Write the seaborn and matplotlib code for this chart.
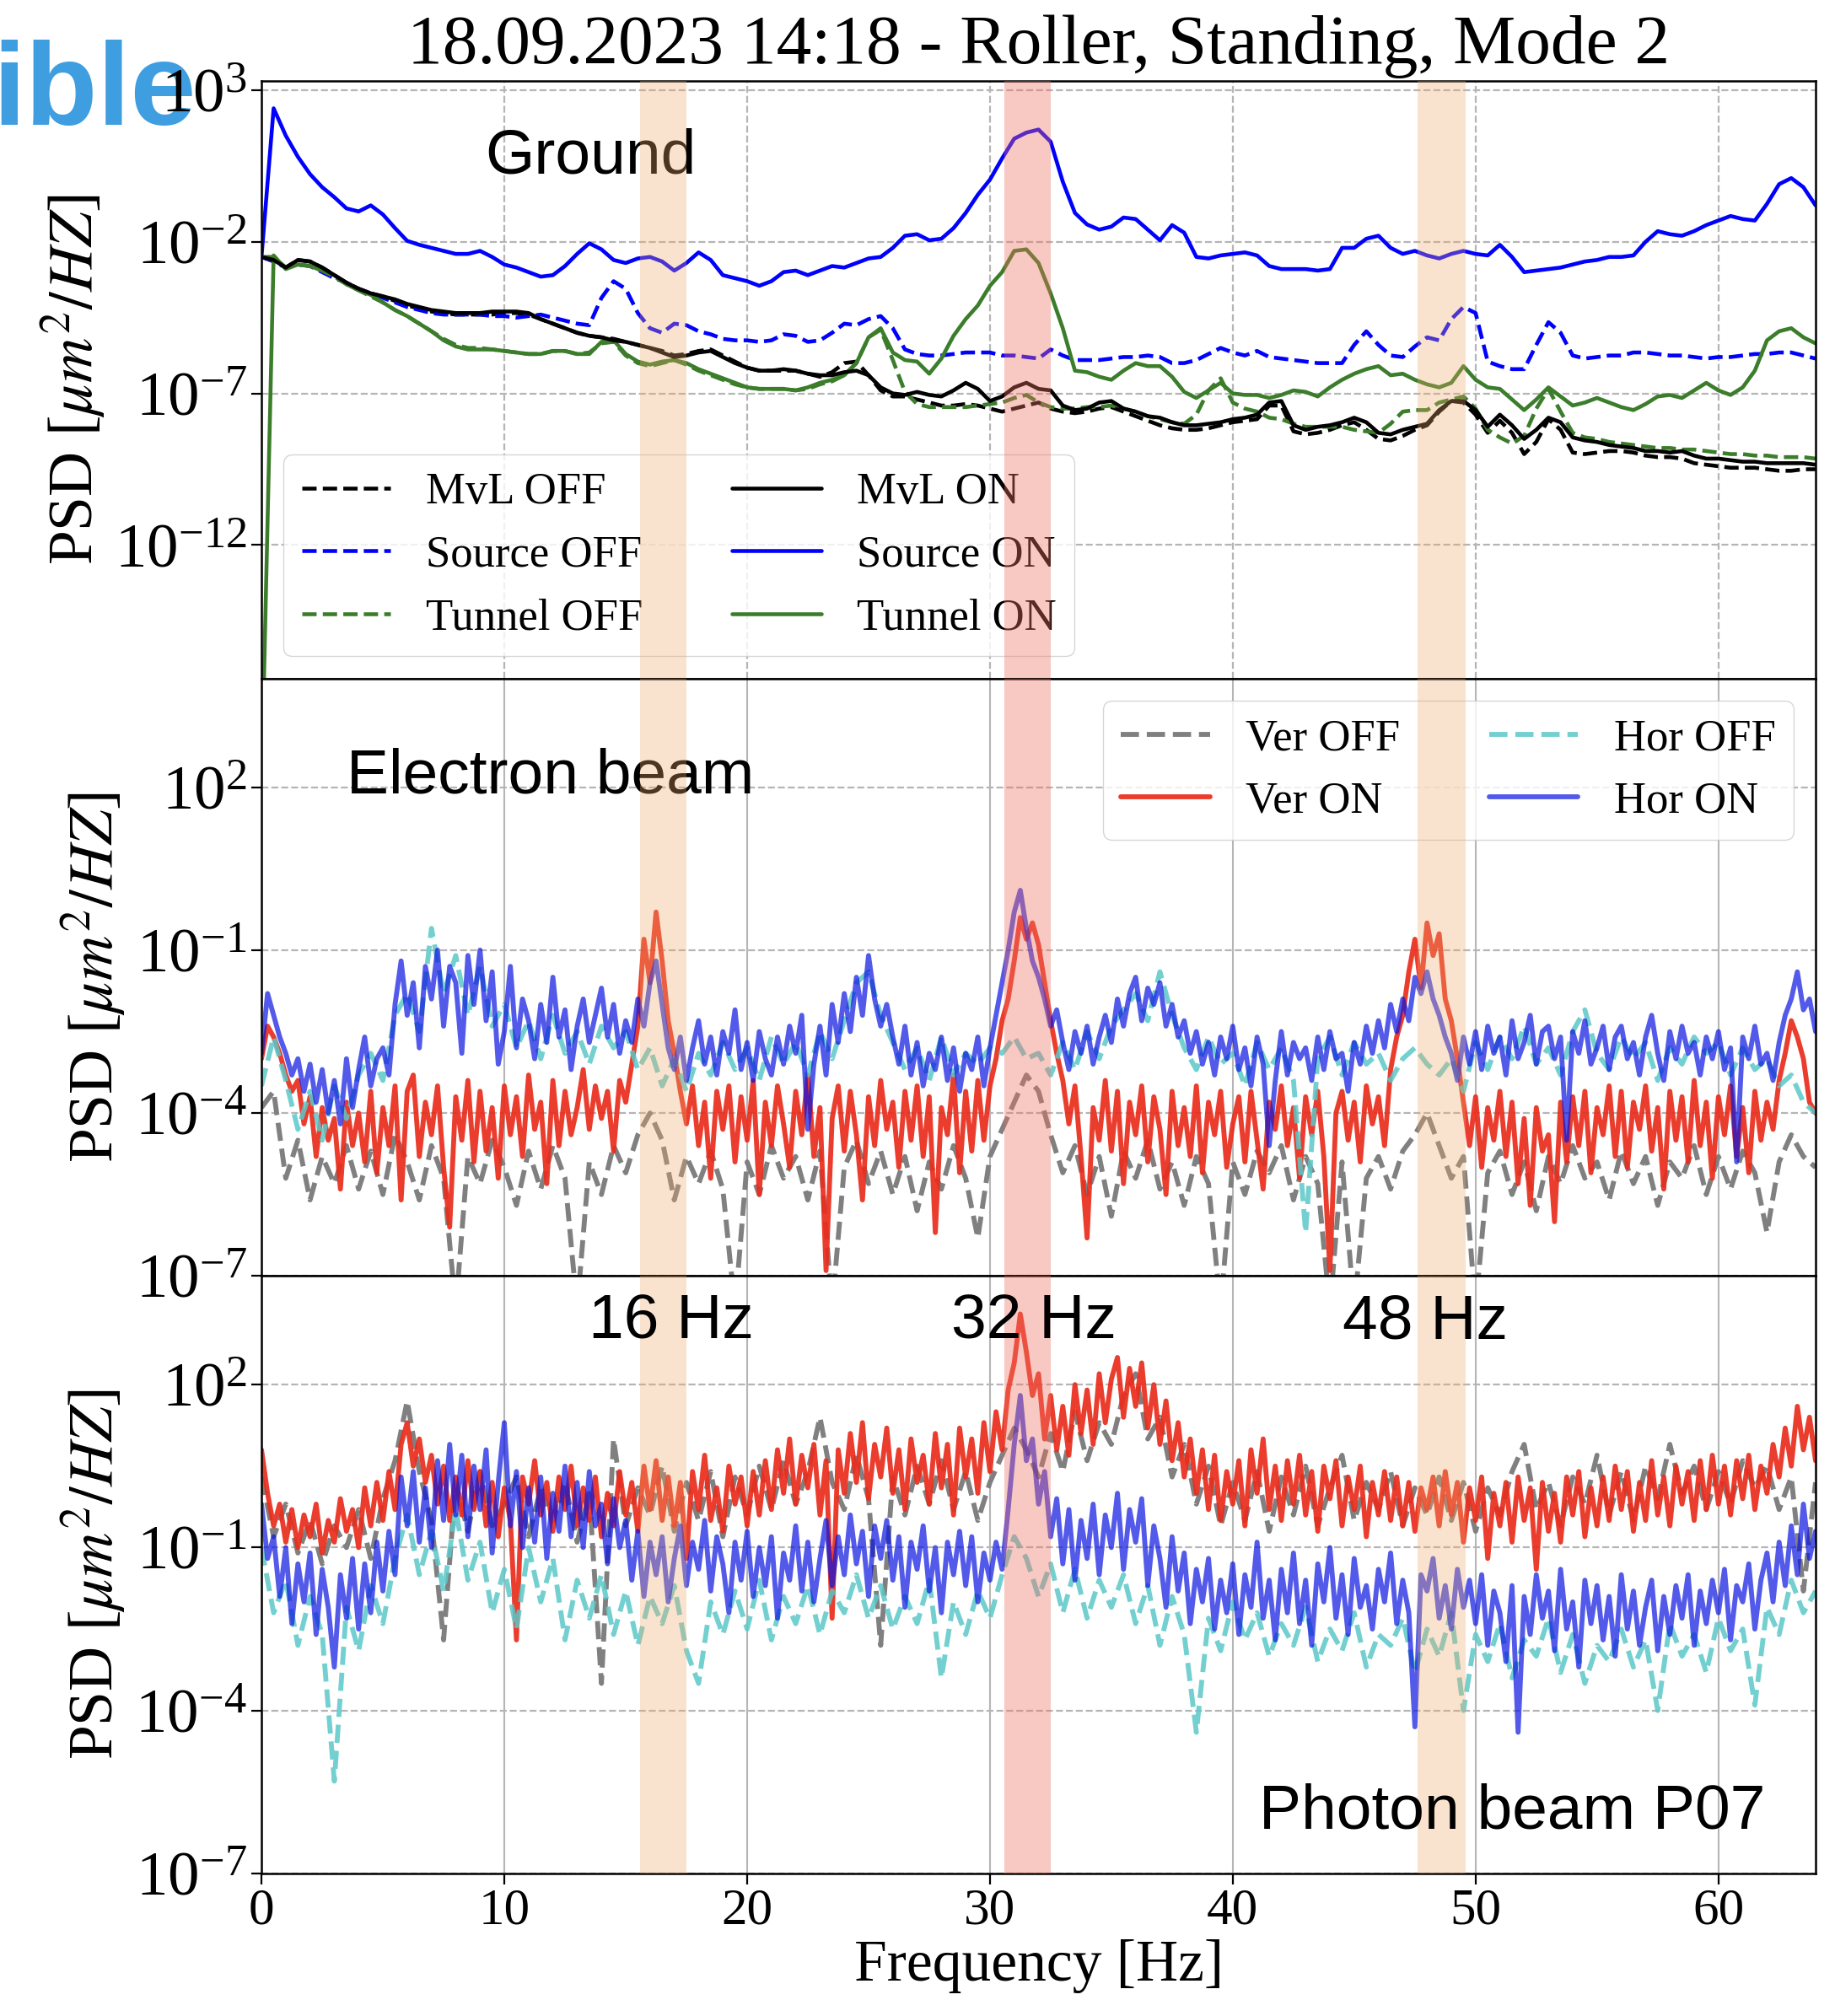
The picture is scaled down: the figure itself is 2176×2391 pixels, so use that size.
import numpy as np
import pandas as pd
import matplotlib
matplotlib.use("Agg")
import matplotlib.pyplot as plt
import seaborn as sns
from matplotlib.ticker import FixedLocator, NullLocator, LogFormatterSciNotation

# ---------------------------------------------------------------------------
# Data: log10(PSD)
# Ground panel: 0.5 Hz spacing (0 ... 64 Hz)
# Beam panels: ON series 0.25 Hz spacing, OFF series 0.5 Hz spacing
# ---------------------------------------------------------------------------
step_coarse = 0.5
step_fine = 0.25

ground_mvl_off = [
    -2.5, -2.6, -2.85, -2.6, -2.65, -2.85, -3.1, -3.35,
    -3.55, -3.7, -3.8, -3.95, -4.1, -4.2, -4.3, -4.35,
    -4.4, -4.4, -4.4, -4.4, -4.35, -4.35, -4.4, -4.55,
    -4.7, -4.85, -5.0, -5.1, -5.15, -5.2, -5.3, -5.4,
    -5.5, -5.6, -5.75, -5.7, -5.6, -5.55, -5.75, -5.95,
    -6.15, -6.25, -6.25, -6.25, -6.25, -6.35, -6.45, -6.3,
    -6.0, -5.95, -6.4, -6.9, -7.1, -7.1, -7.2, -7.3,
    -7.4, -7.4, -7.35, -7.4, -7.5, -7.6, -7.5, -7.4,
    -7.3, -7.5, -7.6, -7.65, -7.6, -7.5, -7.45, -7.6,
    -7.75, -7.9, -8.05, -8.15, -8.2, -8.2, -8.15, -8.05,
    -7.95, -7.9, -7.85, -7.4, -7.4, -8.25, -8.35, -8.3,
    -8.2, -8.05, -7.95, -8.2, -8.5, -8.55, -8.4, -8.2,
    -8.05, -7.6, -7.25, -7.3, -7.7, -8.3, -7.9, -8.3,
    -9.0, -8.6, -7.85, -8.2, -8.95, -9.0, -8.95, -8.9,
    -8.9, -8.95, -9.05, -9.1, -9.1, -9.15, -9.3, -9.35,
    -9.4, -9.45, -9.45, -9.45, -9.5, -9.55, -9.55, -9.5,
    -9.5]
ground_src_off = [
    -2.5, -2.65, -2.85, -2.75, -2.8, -3.0, -3.2, -3.35,
    -3.55, -3.7, -3.85, -4.0, -4.15, -4.25, -4.35, -4.4,
    -4.4, -4.4, -4.4, -4.45, -4.45, -4.5, -4.45, -4.4,
    -4.5, -4.6, -4.7, -4.75, -3.85, -3.3, -3.55, -4.35,
    -4.85, -5.0, -4.7, -4.75, -4.95, -5.05, -5.2, -5.25,
    -5.25, -5.3, -5.25, -5.05, -5.1, -5.3, -5.25, -5.0,
    -4.7, -4.75, -4.55, -4.45, -4.85, -5.55, -5.7, -5.75,
    -5.75, -5.7, -5.65, -5.65, -5.65, -5.75, -5.75, -5.8,
    -5.85, -5.55, -5.75, -5.9, -5.9, -5.9, -5.85, -5.8,
    -5.8, -5.75, -5.8, -6.0, -6.0, -5.9, -5.7, -5.5,
    -5.65, -5.75, -5.6, -5.8, -5.85, -5.9, -5.95, -6.0,
    -6.0, -6.0, -5.4, -4.95, -5.4, -5.75, -5.8, -5.45,
    -5.15, -5.25, -4.55, -4.15, -4.35, -5.95, -6.1, -6.2,
    -6.2, -5.4, -4.65, -5.0, -5.75, -5.85, -5.8, -5.75,
    -5.75, -5.65, -5.65, -5.7, -5.75, -5.75, -5.8, -5.85,
    -5.8, -5.8, -5.75, -5.7, -5.7, -5.65, -5.65, -5.75,
    -5.85]
ground_tun_off = [
    -2.5, -2.5, -2.85, -2.75, -2.8, -2.95, -3.15, -3.4,
    -3.6, -3.8, -4.0, -4.25, -4.45, -4.7, -4.95, -5.2,
    -5.4, -5.5, -5.5, -5.55, -5.6, -5.65, -5.7, -5.7,
    -5.6, -5.6, -5.7, -5.65, -5.35, -5.3, -5.75, -6.0,
    -6.1, -6.0, -5.9, -6.05, -6.25, -6.4, -6.55, -6.7,
    -6.8, -6.85, -6.85, -6.85, -6.9, -6.85, -6.7, -6.6,
    -6.4, -6.0, -5.15, -4.9, -5.9, -6.95, -7.35, -7.45,
    -7.45, -7.45, -7.45, -7.4, -7.35, -7.3, -7.15, -7.05,
    -7.3, -7.45, -7.5, -7.5, -7.45, -7.45, -7.4, -7.5,
    -7.6, -7.75, -7.85, -7.95, -8.0, -7.7, -6.9, -6.5,
    -7.3, -7.5, -7.6, -7.8, -7.85, -8.0, -8.1, -8.1,
    -8.1, -8.1, -8.2, -8.25, -8.3, -8.0, -7.6, -7.55,
    -7.55, -7.3, -7.2, -7.1, -7.5, -8.2, -8.45, -8.65,
    -8.4, -7.5, -6.85, -7.6, -8.3, -8.45, -8.5, -8.6,
    -8.65, -8.7, -8.75, -8.8, -8.8, -8.85, -8.85, -8.9,
    -8.95, -9.0, -9.0, -9.05, -9.05, -9.1, -9.1, -9.1,
    -9.15]
ground_mvl_on = [
    -2.5, -2.6, -2.85, -2.6, -2.65, -2.85, -3.1, -3.35,
    -3.55, -3.7, -3.8, -3.9, -4.05, -4.15, -4.25, -4.3,
    -4.35, -4.35, -4.35, -4.3, -4.3, -4.3, -4.35, -4.55,
    -4.7, -4.85, -5.0, -5.1, -5.15, -5.25, -5.3, -5.4,
    -5.5, -5.65, -5.8, -5.75, -5.65, -5.6, -5.8, -6.0,
    -6.15, -6.25, -6.25, -6.2, -6.25, -6.35, -6.4, -6.4,
    -6.3, -6.25, -6.4, -6.8, -7.0, -7.05, -6.95, -7.05,
    -7.1, -6.9, -6.65, -6.85, -7.25, -7.1, -6.8, -6.65,
    -6.85, -6.9, -7.4, -7.55, -7.5, -7.3, -7.25, -7.5,
    -7.6, -7.75, -7.8, -7.95, -8.05, -8.05, -8.0, -7.95,
    -7.85, -7.8, -7.7, -7.3, -7.25, -8.05, -8.2, -8.1,
    -8.05, -7.95, -7.8, -7.95, -8.3, -8.35, -8.2, -8.1,
    -8.0, -7.55, -7.25, -7.25, -7.55, -8.1, -7.7, -8.05,
    -8.5, -8.2, -7.8, -7.95, -8.45, -8.55, -8.6, -8.7,
    -8.75, -8.8, -8.9, -8.9, -8.95, -8.9, -9.05, -9.15,
    -9.15, -9.2, -9.25, -9.25, -9.3, -9.3, -9.3, -9.3,
    -9.35]
ground_src_on = [
    -2.5, 2.4, 1.5, 0.8, 0.23, -0.2, -0.53, -0.9,
    -1.0, -0.8, -1.1, -1.55, -1.97, -2.1, -2.2, -2.3,
    -2.4, -2.4, -2.3, -2.5, -2.75, -2.85, -3.0, -3.15,
    -3.1, -2.8, -2.4, -2.05, -2.25, -2.6, -2.7, -2.55,
    -2.5, -2.65, -2.95, -2.7, -2.35, -2.6, -3.1, -3.2,
    -3.3, -3.45, -3.3, -3.0, -2.95, -3.1, -2.95, -2.8,
    -2.85, -2.7, -2.55, -2.5, -2.2, -1.8, -1.75, -1.95,
    -1.9, -1.55, -1.05, -0.45, 0.05, 0.75, 1.4, 1.6,
    1.7, 1.3, -0.02, -1.05, -1.43, -1.6, -1.5, -1.2,
    -1.25, -1.6, -1.95, -1.45, -1.7, -2.5, -2.55, -2.45,
    -2.4, -2.35, -2.45, -2.8, -2.9, -2.9, -2.9, -2.95,
    -2.9, -2.2, -2.2, -1.9, -1.8, -2.2, -2.4, -2.3,
    -2.45, -2.55, -2.4, -2.3, -2.4, -2.45, -2.1, -2.5,
    -3.0, -2.95, -2.9, -2.85, -2.75, -2.65, -2.6, -2.5,
    -2.5, -2.45, -2.0, -1.65, -1.75, -1.8, -1.65, -1.45,
    -1.3, -1.15, -1.25, -1.3, -0.75, -0.1, 0.1, -0.2,
    -0.8]
ground_tun_on = [
    -20.0, -2.45, -2.9, -2.75, -2.8, -2.95, -3.1, -3.4,
    -3.6, -3.75, -4.0, -4.25, -4.45, -4.7, -4.95, -5.25,
    -5.45, -5.55, -5.55, -5.55, -5.6, -5.65, -5.7, -5.7,
    -5.6, -5.6, -5.7, -5.7, -5.3, -5.25, -5.7, -5.95,
    -6.05, -5.95, -5.9, -6.0, -6.2, -6.35, -6.5, -6.65,
    -6.8, -6.85, -6.85, -6.85, -6.9, -6.8, -6.65, -6.55,
    -6.4, -6.0, -5.15, -4.85, -5.65, -5.9, -5.95, -6.35,
    -5.85, -5.1, -4.55, -4.1, -3.45, -3.0, -2.3, -2.25,
    -2.7, -3.7, -4.85, -6.25, -6.3, -6.45, -6.55, -6.25,
    -6.0, -6.1, -6.1, -6.45, -6.95, -7.15, -6.9, -6.65,
    -7.0, -7.05, -7.05, -7.15, -7.05, -6.9, -6.95, -7.1,
    -6.8, -6.55, -6.35, -6.2, -6.1, -6.4, -6.35, -6.55,
    -6.7, -6.8, -6.65, -6.1, -6.55, -6.8, -6.85, -7.2,
    -7.55, -7.2, -6.8, -7.1, -7.4, -7.3, -7.15, -7.3,
    -7.45, -7.55, -7.35, -7.1, -7.05, -7.15, -6.9, -6.65,
    -6.9, -7.05, -6.8, -6.25, -5.25, -4.95, -4.85, -5.15,
    -5.35]

# Electron beam
ebeam_ver_off = [
    -3.9, -3.6, -5.2, -4.5, -5.6, -4.8, -5.3, -4.6,
    -5.4, -4.7, -5.5, -4.4, -4.9, -5.6, -4.6, -5.2,
    -7.6, -4.8, -5.3, -4.5, -5.0, -5.7, -4.7, -5.4,
    -4.6, -5.2, -7.6, -4.9, -5.5, -4.6, -5.1, -4.4,
    -4.0, -4.5, -5.6, -4.8, -5.3, -4.7, -5.4, -7.6,
    -4.9, -5.5, -4.6, -5.2, -4.8, -5.6, -4.7, -7.6,
    -5.0, -4.5, -5.3, -4.7, -5.5, -4.8, -5.8, -4.9,
    -5.4, -4.6, -5.2, -6.3, -4.8, -4.3, -3.8, -3.3,
    -3.6, -4.4, -5.1, -4.6, -5.5, -4.8, -5.9, -4.7,
    -5.2, -4.5, -5.4, -4.9, -5.7, -4.8, -5.3, -7.6,
    -4.9, -5.5, -4.7, -5.1, -4.6, -5.6, -4.8, -5.3,
    -7.6, -4.9, -7.6, -5.2, -4.8, -5.4, -4.7, -4.4,
    -4.0, -4.6, -5.2, -4.8, -7.6, -5.1, -4.7, -5.5,
    -4.9, -5.8, -4.8, -5.3, -4.6, -5.2, -4.9, -5.6,
    -4.7, -5.3, -4.8, -5.7, -4.9, -5.2, -4.6, -5.5,
    -4.8, -5.4, -4.7, -5.1, -6.2, -4.9, -4.4, -4.8,
    -5.0]
ebeam_ver_on = [
    -3.0, -2.4, -2.6, -2.9, -3.3, -3.6, -3.4, -4.2, -3.7, -4.8, -3.9, -4.5, -4.1, -5.4, -3.8, -4.6,
    -4.0, -4.9, -3.6, -5.1, -3.9, -4.6, -3.5, -5.6, -3.6, -3.3, -4.8, -3.8, -4.4, -3.5, -5.0, -6.1,
    -3.7, -4.5, -3.4, -4.9, -3.6, -4.7, -3.9, -5.2, -3.5, -4.4, -3.7, -4.8, -3.3, -4.3, -3.8, -5.3,
    -3.4, -4.6, -3.6, -4.4, -3.9, -3.2, -4.3, -3.5, -4.1, -3.6, -4.7, -3.4, -3.8, -3.1, -2.4, -0.8,
    -1.6, -0.3, -1.2, -2.3, -2.9, -3.6, -4.2, -3.5, -4.6, -3.8, -5.2, -3.6, -4.3, -3.5, -4.9, -3.7,
    -4.5, -3.4, -5.5, -3.8, -4.6, -3.5, -4.2, -5.0, -3.6, -4.4, -3.3, -4.8, -3.9, -6.9, -4.1, -3.5,
    -4.7, -3.6, -4.4, -5.6, -3.7, -4.6, -3.4, -4.3, -3.8, -5.0, -3.6, -4.5, -3.5, -4.8, -3.7, -6.2,
    -3.9, -4.4, -3.3, -5.1, -3.6, -4.7, -3.4, -4.5, -3.5, -3.0, -2.3, -1.9, -1.2, -0.4, -0.8, -0.5,
    -0.9, -1.6, -2.3, -2.9, -3.4, -4.2, -3.5, -4.8, -6.3, -3.9, -4.5, -3.4, -4.7, -3.6, -5.3, -3.8,
    -4.4, -3.5, -4.9, -3.7, -4.3, -5.5, -3.6, -4.6, -3.9, -4.8, -3.5, -5.1, -3.8, -4.4, -3.6, -5.0,
    -4.2, -3.7, -4.9, -3.6, -4.5, -5.4, -3.8, -4.3, -3.5, -4.6, -3.9, -5.2, -3.7, -4.4, -3.6, -4.8,
    -6.9, -4.0, -3.6, -4.5, -3.8, -4.9, -3.5, -4.2, -3.7, -4.6, -3.2, -2.6, -2.2, -1.4, -0.8, -1.7,
    -0.5, -1.1, -0.7, -1.9, -2.3, -3.0, -3.8, -4.6, -3.7, -5.0, -3.9, -4.5, -3.6, -4.8, -3.8, -5.3,
    -4.1, -5.7, -3.9, -4.7, -4.4, -6.0, -3.8, -4.9, -3.7, -4.6, -3.6, -5.1, -3.9, -4.4, -3.5, -4.8,
    -3.6, -5.0, -3.8, -4.3, -3.5, -4.7, -3.9, -5.4, -3.6, -4.5, -3.7, -4.9, -3.4, -4.6, -3.8, -5.2,
    -3.7, -4.4, -3.5, -4.8, -3.9, -5.1, -3.6, -4.5, -3.8, -4.3, -3.4, -2.9, -2.3, -2.6, -3.0, -3.8,
    -4.0]
ebeam_hor_off = [
    -3.5, -2.6, -3.4, -4.3, -3.6, -4.5, -3.5, -4.1,
    -3.3, -2.9, -3.4, -2.2, -1.8, -2.5, -0.6, -1.8,
    -1.1, -2.2, -1.3, -2.4, -2.0, -2.8, -2.3, -3.0,
    -2.2, -2.9, -2.5, -3.1, -2.4, -2.8, -2.5, -3.2,
    -2.8, -3.5, -3.0, -3.6, -2.9, -3.3, -2.7, -3.2,
    -2.8, -3.4, -2.6, -3.1, -2.7, -3.3, -2.5, -3.0,
    -2.3, -1.6, -1.4, -2.2, -2.7, -3.2, -2.8, -3.4,
    -2.6, -3.3, -2.9, -3.1, -2.8, -2.9, -2.6, -3.0,
    -2.9, -3.3, -2.7, -3.2, -2.5, -3.0, -2.4, -2.1,
    -1.8, -2.3, -1.4, -2.2, -2.8, -3.2, -2.6, -3.1,
    -2.9, -3.5, -2.7, -3.2, -2.8, -3.4, -6.2, -3.0,
    -2.6, -3.3, -2.7, -3.1, -2.9, -3.4, -3.0, -2.8,
    -3.1, -3.3, -3.0, -3.6, -2.7, -3.2, -2.6, -3.0,
    -2.4, -3.1, -2.8, -3.3, -2.5, -2.1, -2.9, -3.2,
    -2.6, -3.0, -2.7, -3.4, -2.8, -3.1, -2.6, -2.9,
    -2.7, -3.3, -2.8, -3.2, -3.0, -3.5, -3.3, -3.8,
    -4.0]
ebeam_hor_on = [
    -2.9, -1.8, -2.2, -2.6, -2.9, -3.3, -3.0, -3.6, -3.1, -3.8, -3.2, -4.0, -3.4, -4.2, -3.0, -3.9,
    -3.2, -2.6, -3.5, -3.0, -2.8, -3.3, -2.0, -1.2, -2.2, -1.6, -2.8, -1.3, -1.9, -1.0, -2.4, -1.3,
    -1.6, -2.9, -1.1, -2.0, -1.0, -2.3, -1.4, -3.1, -2.5, -1.3, -2.8, -1.9, -2.3, -3.0, -2.0, -2.7,
    -1.5, -2.6, -2.1, -3.2, -2.4, -1.9, -2.7, -2.2, -1.7, -2.6, -2.0, -2.9, -2.3, -2.7, -1.9, -2.4,
    -1.6, -1.2, -2.0, -2.8, -3.2, -2.6, -3.4, -2.8, -2.3, -3.1, -2.6, -3.3, -2.5, -2.9, -2.1, -3.2,
    -2.7, -3.4, -2.5, -3.0, -3.3, -2.6, -3.1, -2.4, -2.9, -2.2, -4.3, -3.1, -2.4, -3.3, -2.0, -2.7,
    -1.8, -2.5, -1.5, -2.2, -1.1, -1.9, -2.4, -2.0, -2.6, -3.1, -2.4, -3.3, -2.7, -3.5, -2.9, -3.2,
    -2.6, -3.4, -2.8, -3.6, -2.9, -3.2, -2.6, -3.5, -2.8, -2.2, -1.6, -1.0, -0.3, 0.1, -0.6, -1.2,
    -1.5, -1.9, -2.4, -2.1, -2.7, -3.2, -2.5, -2.9, -2.4, -3.1, -2.6, -2.2, -2.7, -1.9, -2.4, -1.8,
    -1.5, -2.3, -1.7, -2.0, -1.6, -2.4, -2.0, -2.6, -2.3, -2.9, -2.5, -3.1, -2.7, -3.3, -2.6, -3.0,
    -2.4, -3.2, -2.8, -3.5, -2.6, -3.1, -4.6, -3.4, -2.5, -3.3, -2.7, -3.0, -2.8, -3.4, -2.6, -3.2,
    -2.5, -3.0, -2.9, -3.6, -2.7, -3.1, -2.4, -2.9, -2.3, -2.8, -2.0, -2.5, -1.9, -2.3, -1.5, -1.8,
    -1.4, -1.9, -2.2, -2.6, -2.9, -3.4, -2.6, -3.1, -2.5, -3.2, -2.4, -2.9, -2.6, -3.3, -2.3, -3.0,
    -2.7, -2.2, -3.1, -2.5, -2.4, -3.0, -2.6, -4.5, -2.5, -2.9, -2.3, -3.1, -2.8, -2.4, -3.2, -2.6,
    -2.4, -3.0, -2.7, -3.3, -2.6, -2.2, -2.9, -3.4, -2.5, -3.0, -2.4, -2.9, -2.7, -3.3, -2.6, -3.0,
    -2.5, -3.2, -2.8, -4.9, -2.6, -3.0, -2.4, -3.1, -2.9, -3.4, -2.7, -2.2, -1.9, -1.4, -2.1, -1.9,
    -2.5]

# Photon beam P07
photon_ver_off = [
    0.3, -0.8, -0.2, -1.1, -0.5, -1.3, -0.6, -1.0,
    -0.3, -1.2, -0.1, 0.6, 1.7, 0.4, -0.5, -2.7,
    0.2, -0.7, 0.4, -0.6, -0.2, 0.3, -0.8, 0.1,
    -0.5, 0.2, -0.9, 0.0, -3.5, 1.0, -0.6, 0.1,
    -0.4, 0.5, -0.7, 0.2, -0.5, 0.4, -0.8, 0.3,
    -0.4, 0.5, -0.3, 0.6, -0.2, 0.4, 1.4, 0.2,
    -0.3, 0.7, -0.1, -2.8, 0.3, -0.4, 0.5, -0.2,
    0.6, -0.3, 0.4, -0.5, 0.2, 0.7, 1.2, 0.8,
    0.3, 1.1, 0.4, 1.5, 0.6, 1.3, 0.9, 1.8,
    2.2, 1.0, 1.4, 0.3, 0.9, -0.2, 0.5, -0.6,
    0.2, -0.5, 0.4, -0.7, 0.3, -0.4, 0.5, -0.6,
    0.1, 0.7, -0.5, 0.2, -0.3, 0.4, -0.6, 0.1,
    -0.4, 0.3, -0.5, 0.2, -0.7, 0.1, -0.4, 0.4,
    0.9, -0.3, 0.2, -0.6, 0.3, -0.2, 0.7, -0.4,
    0.4, -0.5, 0.5, -0.1, 0.9, 0.0, 0.5, -0.3,
    0.4, -0.2, 0.6, 0.1, 0.5, -0.3, 0.3, -1.8,
    0.2]
photon_ver_on = [
    0.8, 0.0, -0.6, -0.2, -0.9, -0.3, -1.0, -0.4, -0.8, -0.2, -1.1, -0.5, -0.9, -0.1, -0.7, -0.3,
    -1.0, 0.1, -0.6, 0.2, -0.5, 0.4, -0.3, 0.9, 1.3, 0.5, 1.0, 0.2, 0.7, -0.2, 0.5, -0.5,
    0.3, -0.4, 0.6, -0.3, 0.4, -0.6, 0.2, -0.8, 0.1, -0.5, -2.7, 0.3, -0.2, 0.6, -0.4, 0.2,
    -0.7, 0.3, -0.3, 0.5, -0.6, 0.1, -0.5, 0.3, -0.8, 0.0, -0.6, 0.4, -0.4, 0.2, -0.7, 0.5,
    -0.3, 0.6, -0.5, 0.3, -0.6, 0.2, -1.2, 0.4, -0.3, 0.7, -0.5, 0.1, -0.7, 0.5, -0.2, 0.3,
    -0.6, 0.4, -0.4, 0.6, -0.3, 0.8, 0.0, 1.0, -0.2, 0.7, 0.1, 0.9, -0.4, 0.6, -2.3, 0.8,
    0.0, 1.1, 0.2, 1.3, -0.1, 0.9, 0.3, 1.2, 0.0, 0.8, -0.3, 1.0, 0.2, 0.7, -0.2, 1.1,
    0.1, 0.9, -0.4, 1.2, 0.3, 1.0, 0.0, 1.3, 0.4, 1.5, 0.8, 1.9, 2.4, 3.3, 2.6, 1.8,
    2.2, 1.0, 1.8, 0.8, 1.6, 0.7, 2.0, 1.1, 1.9, 0.9, 2.2, 1.3, 2.1, 2.5, 1.4, 2.3,
    1.6, 2.4, 1.2, 2.0, 0.9, 1.7, 0.6, 1.3, 0.3, 1.0, 0.0, 0.8, -0.3, 0.7, -0.5, 0.4,
    -0.2, 0.6, -0.6, 0.8, 0.0, 1.0, -0.3, 0.5, -0.5, 0.6, -0.2, 0.7, -0.4, 0.4, -0.7, 0.5,
    -0.1, 0.6, -0.6, 0.3, -0.3, 0.5, -0.8, 0.2, -0.4, 0.4, -0.5, 0.3, -0.6, 0.2, -0.7, 0.1,
    -0.3, 0.3, -0.6, 0.4, -0.4, 0.2, -0.9, 0.1, -0.5, 0.3, -1.2, 0.0, -0.6, 0.2, -0.9, 0.3,
    -0.5, 0.1, -1.4, 0.2, -0.7, 0.0, -0.9, 0.3, -0.4, 0.4, -0.8, 0.1, -0.6, 0.3, -0.5, 0.5,
    -0.3, 0.4, -0.7, 0.2, -0.5, 0.6, -0.4, 0.3, -0.6, 0.5, -0.2, 0.4, -0.5, 0.6, -0.3, 0.7,
    -0.2, 0.5, -0.4, 0.6, -0.1, 0.7, -0.3, 0.5, 0.0, 0.9, 0.3, 1.2, 0.5, 1.6, 0.8, 1.4,
    0.6]
photon_hor_off = [
    -1.0, -2.2, -1.6, -2.8, -1.9, -2.6, -5.3, -2.1,
    -2.9, -1.7, -2.4, -1.2, -0.4, -1.5, -0.7, -1.8,
    -0.3, -1.6, -0.9, -2.2, -1.4, -2.5, -1.0, -2.0,
    -1.2, -2.7, -1.6, -2.3, -1.5, -2.6, -1.8, -2.8,
    -1.9, -2.4, -1.7, -2.9, -3.5, -2.0, -2.6, -1.8,
    -2.5, -1.6, -2.7, -1.9, -2.4, -1.7, -2.6, -1.8,
    -2.2, -1.5, -2.3, -1.7, -2.5, -1.9, -2.4, -1.6,
    -3.4, -2.0, -2.6, -1.8, -2.3, -1.5, -0.8, -1.2,
    -1.9, -1.3, -2.2, -1.4, -2.3, -1.6, -2.1, -1.5,
    -2.4, -1.7, -2.8, -1.9, -2.6, -4.4, -2.3, -2.9,
    -2.0, -2.7, -2.2, -3.0, -2.4, -2.8, -2.1, -3.1,
    -2.5, -2.9, -2.2, -3.2, -2.6, -2.8, -2.3, -3.3,
    -2.5, -3.0, -2.2, -4.0, -2.6, -3.1, -2.4, -3.4,
    -2.7, -3.0, -2.3, -3.3, -2.6, -3.5, -2.8, -3.1,
    -2.5, -3.2, -2.7, -4.0, -2.4, -3.0, -2.6, -3.3,
    -2.3, -2.9, -2.5, -3.9, -2.1, -2.6, -1.6, -2.2,
    -1.8]
photon_hor_on = [
    -0.2, -1.2, -0.8, -1.9, -1.0, -2.4, -1.3, -2.0, -1.1, -2.6, -1.4, -2.1, -3.2, -1.5, -2.3, -1.2,
    -2.5, -1.3, -2.2, -0.9, -1.8, -0.7, -1.5, 0.3, -0.6, 0.4, -0.9, 0.1, -1.0, 0.6, -0.5, 0.9,
    -0.4, 0.7, -0.8, 0.5, -0.3, 0.8, -1.1, 0.2, 1.3, -0.6, 0.4, -1.0, 0.1, -0.9, 0.3, -1.2,
    0.0, -0.7, 0.5, -0.8, 0.2, -1.0, 0.4, -0.6, -0.2, -1.3, -0.1, -1.0, -0.5, -1.6, -0.7, -1.9,
    -0.9, -1.5, -0.8, -2.0, -1.2, -0.6, -1.7, -0.9, -1.4, -0.5, -1.8, -0.8, -1.3, -2.2, -0.9, -1.6,
    -0.7, -1.9, -1.0, -1.7, -0.8, -2.3, -1.1, -1.6, -0.6, -1.8, -0.9, -2.0, -1.2, -0.5, -1.7, -0.8,
    -1.5, -0.4, -1.3, -0.7, -1.9, -0.6, -1.2, -0.5, -1.6, -0.8, -2.1, -0.9, -1.4, -0.6, -1.8, -1.0,
    -2.2, -0.9, -1.5, -0.7, -1.7, -0.8, -2.0, -1.1, -1.6, -0.9, -1.4, -0.3, 0.9, 1.8, 0.6, 1.0,
    -0.2, 0.4, -0.8, -0.1, -1.3, -0.3, -1.6, -0.5, -1.2, -0.2, -1.5, -0.4, -1.0, 0.0, -1.4, -0.3,
    -0.9, -0.1, -1.7, -0.6, -1.2, -2.1, -0.8, -1.8, -1.1, -2.4, -1.4, -2.0, -1.2, -2.5, -1.6, -2.2,
    -1.3, -2.6, -1.5, -2.1, -0.9, -2.3, -1.6, -2.7, -1.4, -2.2, -1.1, -2.4, -1.6, -2.8, -1.3, -2.0,
    -1.0, -2.3, -1.5, -2.6, -1.2, -2.1, -1.7, -2.5, -1.4, -2.0, -1.1, -2.4, -1.6, -2.2, -4.3, -1.5,
    -1.8, -1.2, -2.3, -1.7, -2.5, -1.4, -2.1, -1.6, -2.4, -1.5, -2.8, -1.8, -2.2, -3.1, -1.7, -4.4,
    -1.9, -2.6, -1.5, -2.3, -1.8, -2.9, -1.4, -2.5, -2.0, -3.2, -1.6, -2.4, -1.7, -2.7, -1.9, -3.0,
    -1.5, -2.5, -1.8, -2.8, -2.1, -1.6, -2.9, -1.9, -2.6, -1.7, -2.3, -1.5, -2.8, -1.8, -2.4, -1.6,
    -2.2, -1.4, -2.7, -1.7, -2.0, -1.3, -2.5, -1.6, -1.1, -2.0, -0.9, -1.7, -0.6, -1.5, -0.2, -1.2,
    -0.7]

# Highlighted bands (Hz) and annotations
band_16 = (15.6, 17.5)
band_32 = (30.6, 32.5)
band_48 = (47.6, 49.6)
x_ticks = [0, 10, 20, 30, 40, 50, 60]
ground_yticks = [1e3, 1e-2, 1e-7, 1e-12]
beam_yticks = [1e2, 1e-1, 1e-4, 1e-7]


def to_xy(vals, step):
    v = np.asarray(vals, dtype=float)
    return np.arange(len(v)) * step, 10.0 ** v


# ---------------------------------------------------------------------------
sns.set_theme(style="ticks", rc={
    "axes.edgecolor": "black", "axes.labelcolor": "black", "text.color": "black",
    "xtick.color": "black", "ytick.color": "black", "axes.linewidth": 1.6,
})
plt.rcParams['font.family'] = ['Liberation Serif', 'DejaVu Serif']
plt.rcParams['mathtext.fontset'] = 'stix'
plt.rcParams['axes.unicode_minus'] = True

fig = plt.figure(figsize=(21.76, 23.91), dpi=100)
gs = fig.add_gridspec(3, 1, left=0.1425, right=0.9894, top=0.9598,
                      bottom=0.0707, hspace=0)
ax1 = fig.add_subplot(gs[0])
ax2 = fig.add_subplot(gs[1], sharex=ax1)
ax3 = fig.add_subplot(gs[2], sharex=ax1)

green = '#3b7d2b'
lw_top = 3.3
lw_beam = 4.2


def draw(ax, vals, step, color, ls, label, lw, alpha=1.0):
    x, y = to_xy(vals, step)
    sns.lineplot(x=x, y=y, ax=ax, color=color, linestyle=ls, linewidth=lw,
                 alpha=alpha, label=label, legend=False, estimator=None,
                 sort=False, errorbar=None)
    return ax.lines[-1]


# --- Ground panel
h = {}
h['MvL OFF'] = draw(ax1, ground_mvl_off, step_coarse, 'black', '--', 'MvL OFF', lw_top)
h['Source OFF'] = draw(ax1, ground_src_off, step_coarse, 'blue', '--', 'Source OFF', lw_top)
h['Tunnel OFF'] = draw(ax1, ground_tun_off, step_coarse, green, '--', 'Tunnel OFF', lw_top)
h['Tunnel ON'] = draw(ax1, ground_tun_on, step_coarse, green, '-', 'Tunnel ON', lw_top)
h['MvL ON'] = draw(ax1, ground_mvl_on, step_coarse, 'black', '-', 'MvL ON', lw_top)
h['Source ON'] = draw(ax1, ground_src_on, step_coarse, 'blue', '-', 'Source ON', lw_top)
order1 = ['MvL OFF', 'Source OFF', 'Tunnel OFF', 'MvL ON', 'Source ON', 'Tunnel ON']

# --- Beam panels
beam_colors = {'Ver OFF': ('#808080', '--', 1.0), 'Ver ON': ('#ea2c1c', '-', 0.92),
               'Hor OFF': ('#5cc8c8', '--', 0.85), 'Hor ON': ('#0a14e0', '-', 0.7)}
g = {}
for ax, data in [(ax2, [('Ver OFF', ebeam_ver_off, step_coarse), ('Ver ON', ebeam_ver_on, step_fine),
                        ('Hor OFF', ebeam_hor_off, step_coarse), ('Hor ON', ebeam_hor_on, step_fine)]),
                 (ax3, [('Ver OFF', photon_ver_off, step_coarse), ('Ver ON', photon_ver_on, step_fine),
                        ('Hor OFF', photon_hor_off, step_coarse), ('Hor ON', photon_hor_on, step_fine)])]:
    for name, vals, st in data:
        c, ls, a = beam_colors[name]
        line = draw(ax, vals, st, c, ls, name, lw_beam, alpha=a)
        if ax is ax2:
            g[name] = line

# --- Axes formatting
for ax in (ax1, ax2, ax3):
    ax.set_yscale('log')
    ax.yaxis.set_minor_locator(NullLocator())
    ax.yaxis.set_major_formatter(LogFormatterSciNotation())
    ax.set_xlim(0, 64)
    ax.xaxis.set_major_locator(FixedLocator(x_ticks))
    ax.tick_params(axis='both', which='major', length=9, width=1.6, direction='out')
    ax.tick_params(axis='y', labelsize=54)
    ax.tick_params(axis='x', labelsize=44)
    ax.set_ylabel(r'PSD [$\mu m^2/HZ$]', fontsize=53, labelpad=6)
    for sp in ax.spines.values():
        sp.set_visible(True)
        sp.set_linewidth(1.8)
        sp.set_color('black')
    for lo, hi, col, al in [(band_16[0], band_16[1], '#eea868', 0.32),
                            (band_32[0], band_32[1], '#ee7060', 0.38),
                            (band_48[0], band_48[1], '#eea868', 0.32)]:
        ax.axvspan(lo, hi, color=col, alpha=al, lw=0, zorder=6)

ax1.set_ylim(10 ** -16.4, 10 ** 3.3)
ax1.yaxis.set_major_locator(FixedLocator(ground_yticks))
ax1.grid(True, axis='both', ls='--', color='#b5b5b5', lw=1.6)
for ax in (ax2, ax3):
    ax.set_ylim(1e-7, 1e4)
    ax.yaxis.set_major_locator(FixedLocator(beam_yticks))
    ax.grid(True, axis='x', ls='-', color='#b5b5b5', lw=1.5)
    ax.grid(True, axis='y', ls='--', color='#b5b5b5', lw=1.6)

for ax in (ax1, ax2):
    ax.tick_params(axis='x', bottom=False, labelbottom=False)
ax3.set_xlabel('Frequency [Hz]', fontsize=50)

# --- Legends
leg1 = ax1.legend([h[k] for k in order1], order1, loc='lower left', ncol=2,
                  fontsize=38, frameon=True, framealpha=0.8, edgecolor='#cccccc',
                  fancybox=True)
order2 = ['Ver OFF', 'Ver ON', 'Hor OFF', 'Hor ON']
leg2 = ax2.legend([g[k] for k in order2], order2, loc='upper right', ncol=2,
                  fontsize=38, frameon=True, framealpha=0.8, edgecolor='#cccccc',
                  fancybox=True)

# --- Annotations
sans = ['Liberation Sans', 'DejaVu Sans']
ax1.text(0.212, 0.846, 'Ground', transform=ax1.transAxes, ha='center',
         va='baseline', fontsize=54, family=sans)
ax2.text(0.186, 0.808, 'Electron beam', transform=ax2.transAxes, ha='center',
         va='baseline', fontsize=54, family=sans)
for xc, lab in [(0.2637, '16 Hz'), (0.4968, '32 Hz'), (0.7488, '48 Hz')]:
    ax3.text(xc, 0.8955, lab, transform=ax3.transAxes, ha='center',
             va='baseline', fontsize=54, family=sans, zorder=7)
ax3.text(0.8047, 0.075, 'Photon beam P07', transform=ax3.transAxes, ha='center',
         va='baseline', fontsize=54, family=sans, zorder=7)

fig.text(0.566, 0.9686, '18.09.2023 14:18 - Roller, Standing, Mode 2',
         ha='center', va='baseline', fontsize=60)
fig.text(-0.004, 0.9381, 'ible', ha='left', va='baseline', fontsize=101,
         fontweight='bold', color='#3f9ee0', family=sans, zorder=-1)

fig.savefig('out.png', dpi=100)
